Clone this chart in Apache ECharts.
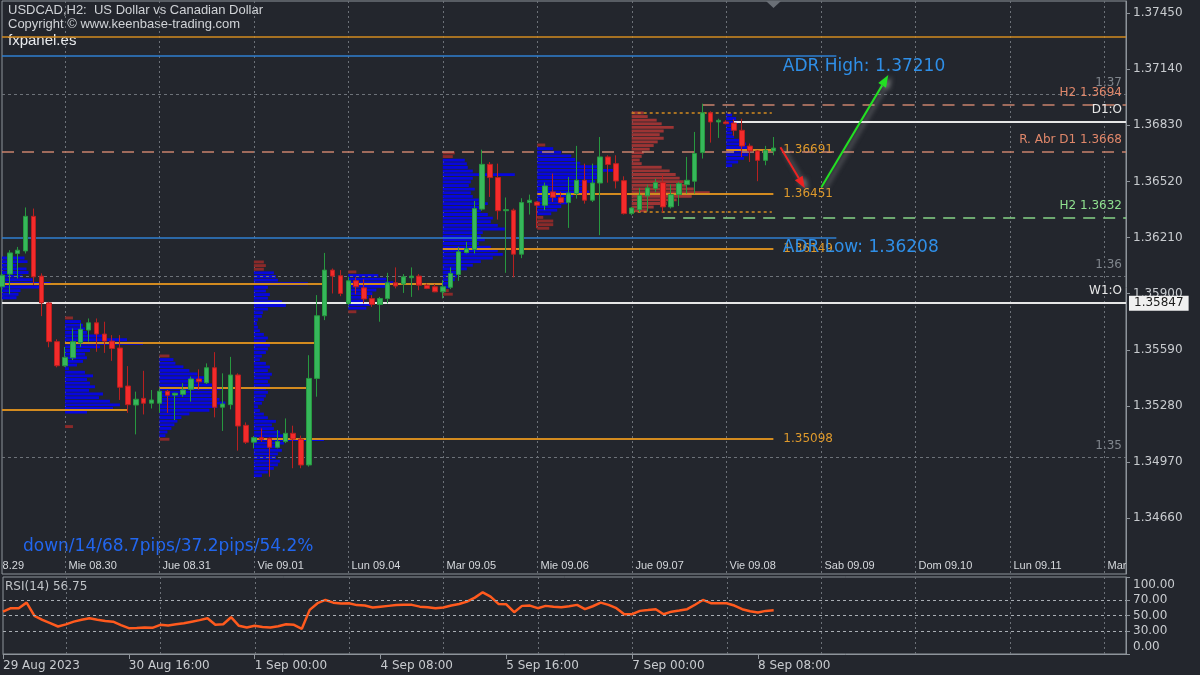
<!DOCTYPE html>
<html><head><meta charset="utf-8">
<script src="https://cdn.jsdelivr.net/npm/echarts@6/dist/echarts.min.js"></script>
<style>html,body{margin:0;padding:0;background:#23262d;}#c{width:1200px;height:675px;}</style>
</head><body><div id="c"></div>
<script>
// ================= DATA =================
// 2-hour bars; bar index 12*d is the first bar of day d (d=0 -> Tue 29 Aug 2023)
const firstBar = 4; // 29 Aug 08:00
// [open, close, low, high]
const ohlc = [
[1.35938,1.36002,1.35908,1.36019],[1.36008,1.36125,1.35897,1.36140],[1.36122,1.36140,1.35984,1.36158],[1.36136,1.36327,1.36122,1.36376],
[1.36327,1.35993,1.35947,1.36370],[1.35997,1.35849,1.35776,1.36012],[1.35849,1.35635,1.35604,1.35855],[1.35635,1.35502,1.35493,1.35648],
[1.35502,1.35548,1.35496,1.35606],[1.35546,1.35635,1.35533,1.35708],[1.35629,1.35703,1.35606,1.35736],[1.35699,1.35739,1.35635,1.35763],
[1.35739,1.35677,1.35579,1.35763],[1.35677,1.35638,1.35573,1.35745],[1.35638,1.35597,1.35529,1.35671],[1.35600,1.35383,1.35313,1.35671],
[1.35390,1.35287,1.35242,1.35500],[1.35285,1.35317,1.35123,1.35359],[1.35322,1.35295,1.35233,1.35474],[1.35295,1.35313,1.35266,1.35368],
[1.35295,1.35361,1.35242,1.35377],[1.35361,1.35339,1.35242,1.35368],[1.35340,1.35350,1.35202,1.35353],[1.35344,1.35368,1.35331,1.35405],
[1.35372,1.35429,1.35304,1.35442],[1.35429,1.35414,1.35368,1.35482],[1.35408,1.35491,1.35401,1.35515],[1.35491,1.35273,1.35217,1.35577],
[1.35273,1.35291,1.35142,1.35460],[1.35287,1.35451,1.35261,1.35551],[1.35451,1.35169,1.35033,1.35460],[1.35173,1.35080,1.35070,1.35189],
[1.35080,1.35105,1.35046,1.35114],[1.35105,1.35096,1.35083,1.35156],[1.35101,1.35052,1.34889,1.35105],[1.35052,1.35083,1.35046,1.35147],
[1.35083,1.35129,1.35075,1.35211],[1.35129,1.35097,1.34936,1.35171],[1.35097,1.34954,1.34936,1.35116],[1.34954,1.35432,1.34945,1.35560],
[1.35432,1.35778,1.35331,1.35892],[1.35778,1.36030,1.35754,1.36125],[1.36030,1.35997,1.35901,1.36039],[1.35999,1.35901,1.35886,1.36030],
[1.35846,1.35971,1.35836,1.35993],[1.35971,1.35938,1.35897,1.35990],[1.35932,1.35871,1.35846,1.35979],[1.35873,1.35840,1.35827,1.35892],
[1.35840,1.35873,1.35745,1.35882],[1.35873,1.35960,1.35846,1.36015],[1.35960,1.35942,1.35929,1.36045],[1.35953,1.35993,1.35904,1.36008],
[1.35988,1.35997,1.35882,1.36045],[1.35997,1.35947,1.35919,1.36008],[1.35947,1.35929,1.35925,1.35956],[1.35938,1.35910,1.35908,1.35953],
[1.35910,1.35938,1.35874,1.35975],[1.35935,1.36012,1.35925,1.36045],[1.36006,1.36131,1.35971,1.36158],[1.36127,1.36149,1.36122,1.36186],
[1.36144,1.36370,1.36122,1.36412],[1.36367,1.36614,1.36358,1.36695],[1.36614,1.36541,1.36434,1.36627],[1.36541,1.36358,1.36309,1.36618],
[1.36358,1.36364,1.36015,1.36431],[1.36361,1.36118,1.35990,1.36370],[1.36118,1.36403,1.36096,1.36427],[1.36403,1.36416,1.36337,1.36447],
[1.36406,1.36388,1.36261,1.36410],[1.36388,1.36495,1.36361,1.36513],[1.36462,1.36432,1.36406,1.36563],[1.36430,1.36403,1.36397,1.36462],
[1.36403,1.36456,1.36263,1.36544],[1.36453,1.36526,1.36425,1.36716],[1.36526,1.36416,1.36397,1.36618],[1.36416,1.36511,1.36406,1.36618],
[1.36511,1.36655,1.36223,1.36765],[1.36655,1.36613,1.36513,1.36664],[1.36618,1.36522,1.36481,1.36664],[1.36524,1.36342,1.36337,1.36548],
[1.36342,1.36373,1.36333,1.36379],[1.36364,1.36443,1.36351,1.36484],[1.36440,1.36484,1.36355,1.36502],[1.36481,1.36513,1.36460,1.36535],
[1.36513,1.36379,1.36348,1.36554],[1.36379,1.36447,1.36370,1.36502],[1.36447,1.36508,1.36384,1.36517],[1.36502,1.36526,1.36453,1.36655],
[1.36521,1.36674,1.36453,1.36793],[1.36679,1.36899,1.36646,1.36949],[1.36899,1.36848,1.36734,1.36907],[1.36848,1.36857,1.36760,1.36866],
[1.36848,1.36839,1.36835,1.36857],[1.36842,1.36802,1.36771,1.36863],[1.36802,1.36715,1.36654,1.36866],[1.36715,1.36688,1.36627,1.36729],
[1.36688,1.36636,1.36521,1.36692],[1.36636,1.36692,1.36609,1.36716],[1.36688,1.36704,1.36664,1.36765]
];
const rsi = [
55,59.5,59.5,66.7,49.5,44.3,40,35.7,38.5,42,
44.5,46.5,44.5,43,42,37.5,33.5,33.8,34.4,34,
37.9,37,38.5,40,42,44,46.5,37.9,38.7,47.8,
36.6,34.4,36.6,35,34.4,36,38.7,37.9,32.7,57.3,
66,70.2,66.7,65.5,66,63.5,62.9,60.3,61.5,62.5,
63.5,63.8,63.8,61.5,60.8,59.5,60.3,63,65,68,
73.2,80.1,74.5,65,64.6,54.3,62.5,62.9,59.5,62.5,
61.5,60.8,62,63.8,58.2,62,66.7,63.8,59.5,51.7,
51.7,56,57,58.2,51.7,55,56.5,58.2,64,70.2,
66,66,66,62.9,58.2,55.5,53.8,56,56.75
];
const dayStarts = [0,12,24,36,48,60,72,84,96,108,120,132,144];
const dayLabels = ['Mar 08.29','Mie 08.30','Jue 08.31','Vie 09.01','Lun 09.04','Mar 09.05','Mie 09.06','Jue 09.07','Vie 09.08','Sab 09.09','Dom 09.10','Lun 09.11','Mar 09.12'];
const timeTicks = [4,20,36,52,68,84,100];
const timeLabels = ['29 Aug 2023','30 Aug 16:00','1 Sep 00:00','4 Sep 08:00','5 Sep 16:00','7 Sep 00:00','8 Sep 08:00'];
const priceTicks = [1.3466,1.3497,1.3528,1.3559,1.3590,1.3621,1.3652,1.3683,1.3714,1.3745];
const rsiTicks = [0,30,50,70,100];

// Daily volume profiles (tick volume per price level, top level first)
const VOL_PER_BAR = 7.87;
const PROFILE_STEP = 0.0002;
const profAnchors = [0,12,24,36,48,60,72,84,96];
const profTops = [1.36097,1.35766,1.35556,1.36075,1.36020,1.36677,1.36721,1.36898,1.36887];
const profTone = ['buy','buy','buy','buy','buy','buy','buy','sell','buy'];
const profVols = [
 [54,57,46,56,58,52,62,80,72,50,48,46],
 [8,16,18,20,22,40,62,78,35,25,20,22,18,12,4,20,28,22,25,30,24,38,34,45,55,48,22,0,0,0,8],
 [10,14,16,24,30,38,45,50,55,62,58,52,60,66,58,50,30,22,18,15,12,8,6,10],
 [10,12,10,20,22,24,54,14,12,16,14,28,32,14,9,8,4,3,4,6,10,14,12,16,14,12,8,6,12,16,14,18,16,14,16,12,14,12,10,8,4,6,10,14,22,18,20,26,30,70,30,26,28,24,22,26,24,20,14,8],
 [8,30,38,45,40,28,24,20,16,22,18,8],
 [12,10,22,24,25,30,72,30,28,26,32,28,30,36,45,42,38,45,50,48,55,62,40,38,42,36,48,55,60,50,38,30,24,18,14,12,10,8,6,10],
 [8,16,24,34,38,43,60,76,63,62,58,50,48,52,36,34,30,24,20,14,6,16,16,12],
 [12,16,25,30,42,32,28,32,26,22,18,12,10,8,10,30,38,44,48,52,55,62,78,60,45,35,22,16],
 [6,10,12,10,8,6,8,14,20,26,24,22,18,12,6]
];
const profTails = [[],[0,30],[0,23],[0,1,2],[0,11],[0,1,38,39],[0,20,21,22,23],[],[]];

// Horizontal levels
const roundLevels = [1.37,1.36,1.35];
const upperOrange = 1.37317;
const adrHigh = 1.37210, adrLow = 1.36208, adrSpan = [0,110];
const h2High = 1.3694, h2HighFrom = 93;
const h2Low = 1.3632, h2LowFrom = 88;
const dailyOpen = 1.36847, dailyOpenFrom = 97;
const weeklyOpen = 1.35847;
const dailyRangeOpen = 1.3668;
const pocPrices = [1.35952,1.35630,1.35379,1.35255,1.35098,1.35954,1.36149,1.36451,1.36691];
const pocFrom   = [0,12,24,0,36,48,60,72,96];
const pocTo     = [45.0,44.0,42.9,20.0,102,59.9,102,102,102];
const pocLabeled= [false,false,false,false,true,false,true,true,true];
const valueArea = [1.36898,1.36351], valueAreaSpan = [84,101.8];
// Drawn arrows [bar, price]
const arrowRed = [[102.9,1.36708],[106.0,1.36482]];
const arrowGreen = [[108.1,1.36487],[116.6,1.37107]];
const adrTextBar = 103.2;

// ================= CHART =================
const X_MIN = 4, X_MAX = 146.8, Y_MIN = 1.34352, Y_MAX = 1.37516;
const BG = '#23262d', BORDER = '#8e949b';
const FONT = 'DejaVu Sans';

const LS = {
  round:{color:'#6d7279',width:1,dash:[3,3],label:'#80868d',size:12},
  orange:{color:'#d38b1f',width:1.5},
  adr:{color:'#2f7fd0',width:1.5},
  poc:{color:'#d38b1f',width:2,label:'#df9a2c',size:12},
  va:{color:'#d38b1f',width:1.5,dash:[3,3]},
  salmon:{color:'#c9826c',width:1.5,dash:[12,8],label:'#e0876a',size:12},
  green:{color:'#86d386',width:1.5,dash:[12,8],label:'#8fe08f',size:12},
  white:{color:'#e6e6e6',width:2,label:'#e6e6e6',size:12}
};
const levels = [];
roundLevels.forEach(p => levels.push({kind:'round',from:X_MIN-10,to:X_MAX,price:p,text:p.toFixed(2),pos:'right'}));
levels.push({kind:'orange',from:X_MIN-10,to:X_MAX,price:upperOrange});
levels.push({kind:'adr',from:adrSpan[0],to:adrSpan[1],price:adrHigh});
levels.push({kind:'adr',from:adrSpan[0],to:adrSpan[1],price:adrLow});
pocPrices.forEach((p,k) => levels.push({kind:'poc',from:pocFrom[k],to:pocTo[k],price:p,text:pocLabeled[k]?p.toFixed(5):null,pos:'end'}));
valueArea.forEach(p => levels.push({kind:'va',from:valueAreaSpan[0],to:valueAreaSpan[1],price:p}));
levels.push({kind:'salmon',from:h2HighFrom,to:X_MAX,price:h2High,text:'H2 '+h2High.toFixed(4),pos:'right'});
levels.push({kind:'salmon',from:X_MIN-10,to:X_MAX,price:dailyRangeOpen,text:'R. Abr D1 '+dailyRangeOpen.toFixed(4),pos:'right'});
levels.push({kind:'green',from:h2LowFrom,to:X_MAX,price:h2Low,text:'H2 '+h2Low.toFixed(4),pos:'right'});
levels.push({kind:'white',from:dailyOpenFrom,to:X_MAX,price:dailyOpen,text:'D1:O',pos:'right'});
levels.push({kind:'white',from:X_MIN-10,to:X_MAX,price:weeklyOpen,text:'W1:O',pos:'right'});

const profData = [];
profVols.forEach((vols,p) => vols.forEach((v,k) => {
  if (v > 0) profData.push([profAnchors[p], +(profTops[p]-k*PROFILE_STEP).toFixed(5), v, p, profTails[p].includes(k)?1:0]);
}));

const notes = [
  {at:[adrTextBar,adrHigh],text:'ADR High: '+adrHigh.toFixed(5),dy:10,style:{fill:'#2f8fe8',fontSize:17}},
  {at:[adrTextBar,adrLow],text:'ADR Low: '+adrLow.toFixed(5),dy:10,style:{fill:'#2f8fe8',fontSize:17}},
  {at:[X_MAX,weeklyOpen],text:weeklyOpen.toFixed(5),dx:3,style:{fill:'#1b1b1b',fontSize:12,backgroundColor:'#f0f0f0',padding:[2,5,1,5]}}
];
const arrows = [{pts:arrowRed,color:'#ee2222'},{pts:arrowGreen,color:'#22e022'}];

function renderLevel(params, api){
  const L = levels[params.dataIndex], s = LS[L.kind], cs = params.coordSys;
  const p1 = api.coord([L.from, L.price]), p2 = api.coord([L.to, L.price]);
  const x1 = Math.max(p1[0], cs.x), x2 = Math.min(p2[0], cs.x+cs.width);
  const y = Math.round(p1[1]) + (s.width===1?0.5:0);
  const ch = [{type:'line',shape:{x1,y1:y,x2,y2:y},style:{stroke:s.color,lineWidth:s.width,lineDash:s.dash||null}}];
  if (L.text){
    if (L.pos==='right') ch.push({type:'text',x:cs.x+cs.width-4,y:y-12,style:{text:L.text,fill:s.label,fontSize:s.size,fontFamily:FONT,align:'right',verticalAlign:'middle'}});
    else ch.push({type:'text',x:x2+10,y:y,style:{text:L.text,fill:s.label,fontSize:s.size,fontFamily:FONT,align:'left',verticalAlign:'middle'}});
  }
  return {type:'group',children:ch};
}
function renderProfile(params, api){
  const a=api.value(0), pr=api.value(1), v=api.value(2), p=api.value(3), tail=api.value(4);
  const s=api.coord([a,pr]), e=api.coord([a+v/VOL_PER_BAR,pr]);
  const h=Math.abs(api.size([0,PROFILE_STEP])[1])*0.8;
  const fill = tail ? '#8a2a2a' : (profTone[p]==='sell' ? '#9c3434' : '#0707dd');
  return {type:'rect',shape:{x:s[0],y:s[1]-h/2,width:e[0]-s[0],height:h},style:{fill}};
}
function renderDays(withText){
  return function(params, api){
    const cs=params.coordSys;
    const x=Math.round(api.coord([api.value(0),api.value(1)])[0])+0.5;
    const ch=[{type:'line',shape:{x1:x,y1:cs.y,x2:x,y2:cs.y+cs.height},style:{stroke:'#6c7178',lineWidth:1,lineDash:[2,3]}}];
    if (withText) ch.push({type:'text',x:x+3,y:cs.y+cs.height-8,style:{text:dayLabels[params.dataIndex],fill:'#d5d8dc',fontSize:11,fontFamily:'Liberation Sans',align:'left',verticalAlign:'middle'}});
    return {type:'group',children:ch};
  };
}
function renderNote(params, api){
  const n=notes[params.dataIndex], p=api.coord(n.at);
  return {type:'text',x:p[0]+(n.dx||0),y:p[1]+(n.dy||0),style:Object.assign({text:n.text,fontFamily:FONT,align:'left',verticalAlign:'middle'},n.style)};
}
function renderArrow(params, api){
  const A=arrows[params.dataIndex];
  const p1=api.coord(A.pts[0]), p2=api.coord(A.pts[1]);
  const ang=Math.atan2(p2[1]-p1[1],p2[0]-p1[0]), L=12, W=4.5;
  const bx=p2[0]-L*Math.cos(ang), by=p2[1]-L*Math.sin(ang), nx=-Math.sin(ang), ny=Math.cos(ang);
  const sh={shadowBlur:5,shadowColor:'rgba(190,190,190,0.55)',shadowOffsetX:3,shadowOffsetY:2};
  return {type:'group',children:[
    {type:'line',shape:{x1:p1[0],y1:p1[1],x2:bx,y2:by},style:Object.assign({stroke:A.color,lineWidth:2},sh)},
    {type:'polygon',shape:{points:[[p2[0],p2[1]],[bx+nx*W,by+ny*W],[bx-nx*W,by-ny*W]]},style:Object.assign({fill:A.color},sh)}
  ]};
}

const chart = echarts.init(document.getElementById('c'), null, {renderer:'canvas',width:1200,height:675});
chart.setOption({
  backgroundColor: BG,
  animation: false,
  grid: [
    {left:2,right:74,top:1,height:573,show:true,borderColor:BORDER,borderWidth:1},
    {left:2,right:74,top:577,height:77,show:true,borderColor:BORDER,borderWidth:1}
  ],
  xAxis: [
    {type:'value',gridIndex:0,min:X_MIN,max:X_MAX,show:false},
    {type:'value',gridIndex:1,min:X_MIN,max:X_MAX,
     axisLine:{show:true,lineStyle:{color:BORDER}},
     axisTick:{show:true,customValues:timeTicks,length:5,lineStyle:{color:BORDER}},
     axisLabel:{customValues:timeTicks,formatter:v=>{let b=0;timeTicks.forEach((t,k)=>{if(Math.abs(t-v)<Math.abs(timeTicks[b]-v))b=k;});return timeLabels[b];},
       color:'#c8cbcf',fontFamily:FONT,fontSize:12,align:'left',margin:6},
     splitLine:{show:false}}
  ],
  yAxis: [
    {type:'value',gridIndex:0,position:'right',min:Y_MIN,max:Y_MAX,
     axisLine:{show:true,lineStyle:{color:BORDER}},
     axisTick:{show:true,customValues:priceTicks,length:4,lineStyle:{color:BORDER}},
     axisLabel:{customValues:priceTicks,formatter:v=>v.toFixed(5),color:'#c8cbcf',fontFamily:FONT,fontSize:12,margin:7},
     splitLine:{show:false}},
    {type:'value',gridIndex:1,position:'right',min:0,max:100,
     axisLine:{show:true,lineStyle:{color:BORDER}},
     axisTick:{show:true,customValues:rsiTicks,length:4,lineStyle:{color:BORDER}},
     axisLabel:{customValues:rsiTicks,color:'#c8cbcf',fontFamily:FONT,fontSize:12,margin:7,
       formatter:v=>v===100?'{t|100.00}':(v===0?'{b|0.00}':v.toFixed(2)),
       rich:{t:{padding:[16,0,0,0],color:'#c8cbcf',fontFamily:FONT,fontSize:12},b:{padding:[0,0,14,0],color:'#c8cbcf',fontFamily:FONT,fontSize:12}}},
     splitLine:{show:false}}
  ],
  series: [
    {type:'custom',name:'days',xAxisIndex:0,yAxisIndex:0,clip:true,z:0,silent:true,
     data:dayStarts.map(d=>[d,Y_MIN]),encode:{x:0,y:1},renderItem:renderDays(true)},
    {type:'custom',name:'daysRsi',xAxisIndex:1,yAxisIndex:1,clip:true,z:0,silent:true,
     data:dayStarts.map(d=>[d,50]),encode:{x:0,y:1},renderItem:renderDays(false)},
    {type:'custom',name:'profiles',xAxisIndex:0,yAxisIndex:0,clip:true,z:1,silent:true,
     data:profData,encode:{x:0,y:1},renderItem:renderProfile},
    {type:'custom',name:'levels',xAxisIndex:0,yAxisIndex:0,clip:false,z:2,silent:true,
     data:levels.map(L=>[Math.max(L.from,X_MIN),L.price]),encode:{x:0,y:1},renderItem:renderLevel},
    {type:'candlestick',name:'USDCAD',xAxisIndex:0,yAxisIndex:0,z:3,barWidth:5,
     data:ohlc.map((b,k)=>[firstBar+k,b[0],b[1],b[2],b[3]]),encode:{x:0,y:[1,2,3,4]},
     itemStyle:{color:'#36b75b',color0:'#f42b2b',borderColor:'#27983f',borderColor0:'#b82020',borderWidth:1}},
    {type:'custom',name:'arrows',xAxisIndex:0,yAxisIndex:0,clip:false,z:5,silent:true,
     data:arrows.map(a=>a.pts[0]),encode:{x:0,y:1},renderItem:renderArrow},
    {type:'custom',name:'notes',xAxisIndex:0,yAxisIndex:0,clip:false,z:6,silent:true,
     data:notes.map(n=>n.at),encode:{x:0,y:1},renderItem:renderNote},
    {type:'line',name:'RSI(14)',xAxisIndex:1,yAxisIndex:1,z:3,showSymbol:false,
     data:rsi.map((v,k)=>[firstBar+k,v]),lineStyle:{color:'#ff5a1e',width:2.5},itemStyle:{color:'#ff5a1e'},
     markLine:{silent:true,symbol:['none','none'],label:{show:false},lineStyle:{color:'#a9aeb4',type:[3,3],width:1},
       data:[{yAxis:70},{yAxis:50},{yAxis:30}]}}
  ],
  graphic: [
    {type:'text',left:8,top:4,style:{text:'USDCAD,H2:  US Dollar vs Canadian Dollar',fill:'#d0d3d7',fontFamily:'Liberation Sans',fontSize:13}},
    {type:'text',left:8,top:18,style:{text:'Copyright © www.keenbase-trading.com',fill:'#d0d3d7',fontFamily:'Liberation Sans',fontSize:13}},
    {type:'text',left:8,top:33,style:{text:'fxpanel.es',fill:'#e9ebee',fontFamily:'Liberation Sans',fontSize:15}},
    {type:'text',left:23,top:538,style:{text:'down/14/68.7pips/37.2pips/54.2%',fill:'#2266ee',fontFamily:FONT,fontSize:17}},
    {type:'text',left:5,top:581,style:{text:'RSI(14) 56.75',fill:'#c0c4c8',fontFamily:FONT,fontSize:12}},
    {type:'polygon',shape:{points:[[766,1],[781,1],[773.5,8]]},style:{fill:'#6a6f76'}}
  ]
});
</script></body></html>
